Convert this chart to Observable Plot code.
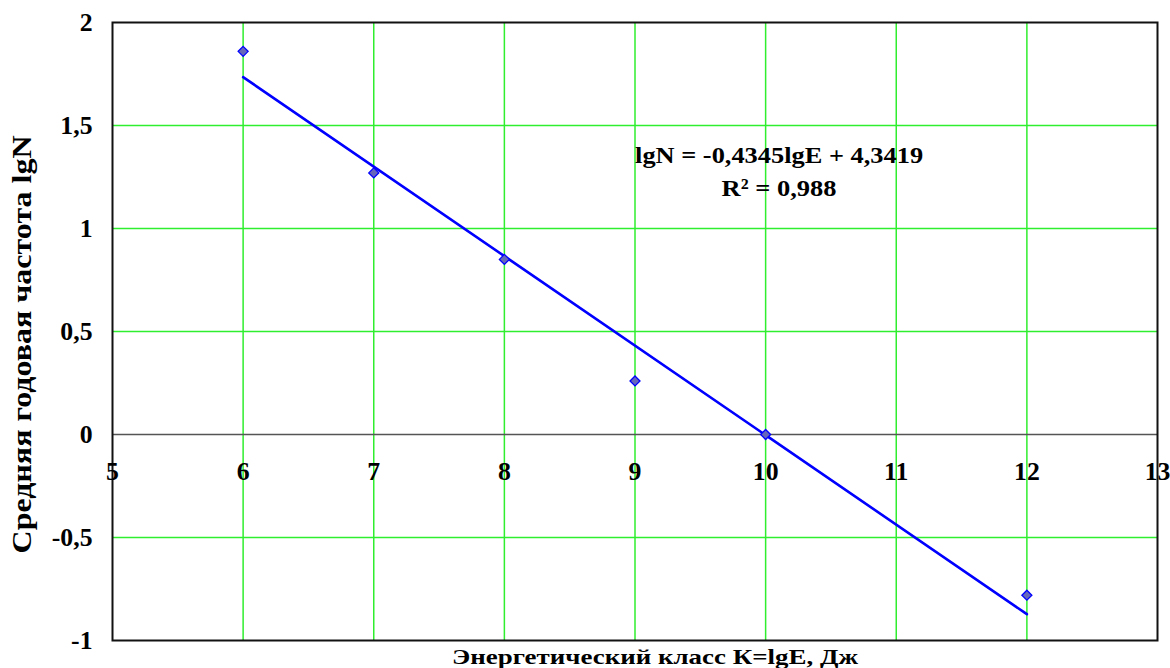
<!DOCTYPE html>
<html><head><meta charset="utf-8">
<script src="https://cdn.jsdelivr.net/npm/d3@7"></script>
<script src="https://cdn.jsdelivr.net/npm/@observablehq/plot@0.6"></script>
<style>
body{margin:0;background:#fff;}
#chart svg, #chart svg text{font-family:"Liberation Serif", "Times New Roman", serif !important;}
</style>
</head><body><div id="chart"></div>
<script>
const energyClass = [6, 7, 8, 9, 10, 12];
const lgN = [1.86, 1.27, 0.85, 0.26, 0.0, -0.78];
const slope = -0.4345;
const intercept = 4.3419;
const fitRange = [6, 12];
const xTicks = [5, 6, 7, 8, 9, 10, 11, 12, 13];
const yTicks = [-1, -0.5, 0, 0.5, 1, 1.5, 2];
const eqLines = ["lgN = -0,4345lgE + 4,3419", "R² = 0,988"];
const eqPos = [[10.103, 1.357], [10.103, 1.195]];
const xTitle = "Энергетический класс К=lgE, Дж";
const yTitle = "Средняя годовая частота lgN";

const pts = energyClass.map((k, i) => ({x: k, y: lgN[i]}));
const fit = fitRange.map(x => ({x, y: slope * x + intercept}));
const eq = eqLines.map((t, i) => ({t, x: eqPos[i][0], y: eqPos[i][1]}));
const fmt = v => String(v).replace(".", ",");
const F = "Liberation Serif";

const chart = Plot.plot({
  width: 1170, height: 668,
  marginLeft: 112, marginRight: 13, marginTop: 22, marginBottom: 28,
  style: {background: "#fff"},
  x: {domain: [5, 13], axis: null},
  y: {domain: [-1, 2], axis: null},
  marks: [
    Plot.ruleX(xTicks.slice(1, -1), {stroke: "#2eee2e", strokeWidth: 1.5}),
    Plot.ruleY(yTicks.filter(v => v !== 0 && v !== -1 && v !== 2), {stroke: "#2eee2e", strokeWidth: 1.5}),
    Plot.ruleY([0], {stroke: "#555", strokeWidth: 1.4}),
    Plot.frame({stroke: "#111", strokeWidth: 2}),
    Plot.line(fit, {x: "x", y: "y", stroke: "#0000ff", strokeWidth: 2.6}),
    Plot.dot(pts, {x: "x", y: "y", symbol: "diamond2", r: 4.5, fill: "#6666bb", stroke: "#0000ff", strokeWidth: 1.3}),
    Plot.text(xTicks, {x: d => d, y: 0, text: d => fmt(d), dy: 37, lineAnchor: "middle", fontSize: 25, fontWeight: "bold", fontFamily: F, fill: "#000"}),
    Plot.text(yTicks, {x: 5, y: d => d, text: d => fmt(d), dx: -20, textAnchor: "end", lineAnchor: "middle", fontSize: 25, fontWeight: "bold", fontFamily: F, fill: "#000"}),
    Plot.text(eq, {x: "x", y: "y", text: "t", lineAnchor: "middle", fontSize: 24, fontWeight: "bold", fontFamily: F, fill: "#000"}),
    Plot.text([xTitle], {frameAnchor: "bottom", textAnchor: "middle", lineAnchor: "middle", dx: 20, dy: 16, fontSize: 22, fontWeight: "bold", fontFamily: F, fill: "#000"}),
    Plot.text([yTitle], {frameAnchor: "left", textAnchor: "middle", lineAnchor: "middle", dx: -90, dy: 13, rotate: -90, fontSize: 27, fontWeight: "bold", fontFamily: F, fill: "#000"})
  ]
});
document.getElementById("chart").appendChild(chart);

// the reference lettering is stretched horizontally: match its widths
const tickLabels = new Set([...xTicks, ...yTicks].map(fmt));
const targets = new Map([[eqLines[0], 288], [eqLines[1], 115], [xTitle, 406], [yTitle, 418]]);
chart.querySelectorAll("text").forEach(t => {
  const s = t.textContent;
  let w = null;
  if (targets.has(s)) w = targets.get(s);
  else if (tickLabels.has(s)) w = t.getComputedTextLength() * 1.03;
  if (w) {
    t.setAttribute("textLength", w);
    t.setAttribute("lengthAdjust", "spacingAndGlyphs");
  }
});
</script>
</body></html>
